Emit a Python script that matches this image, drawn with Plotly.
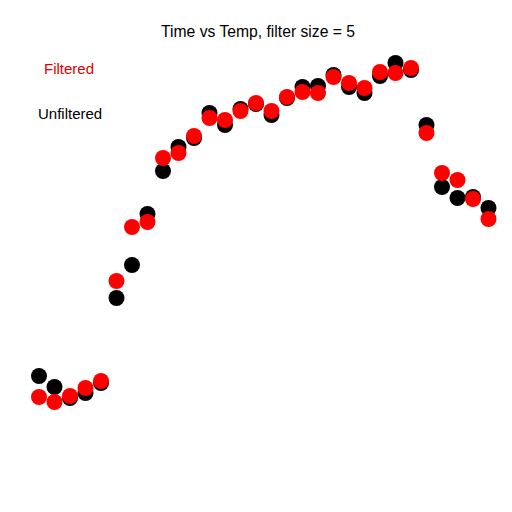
import plotly.graph_objects as go

time = list(range(1, 31))
unfiltered = [13.6, 12.5, 11.4, 11.9, 12.9, 21.4, 24.7, 29.8, 34.1, 36.5,
              37.4, 39.9, 38.7, 40.3, 40.8, 39.7, 41.4, 42.5, 42.6, 43.7,
              42.5, 41.9, 43.6, 44.9, 44.2, 38.7, 32.5, 31.4, 31.5, 30.4]
filtered = [11.5, 11.0, 11.6, 12.4, 13.1, 23.1, 28.5, 29.0, 35.4, 35.9,
            37.6, 39.4, 39.2, 40.1, 40.9, 40.1, 41.5, 42.0, 41.9, 43.5,
            42.9, 42.4, 44.0, 43.9, 44.4, 37.9, 33.9, 33.2, 31.3, 29.3]
title_text = "Time vs Temp, filter size = 5"

fig = go.Figure()
fig.add_trace(go.Scatter(x=time, y=unfiltered, mode="markers", name="Unfiltered",
                         marker=dict(color="black", size=16, line=dict(width=0))))
fig.add_trace(go.Scatter(x=time, y=filtered, mode="markers", name="Filtered",
                         marker=dict(color="#ff0000", size=16, line=dict(width=0))))

font = "Liberation Sans, Arial, sans-serif"
fig.update_layout(
    width=512, height=512,
    margin=dict(l=0, r=0, t=0, b=0),
    paper_bgcolor="white", plot_bgcolor="white",
    showlegend=False,
    xaxis=dict(range=[-1.516, 31.516], visible=False),
    yaxis=dict(range=[0, 51.2], visible=False),
    annotations=[
        dict(text=title_text, x=258/512, y=1-31/512, xref="paper", yref="paper",
             showarrow=False, xanchor="center", yanchor="middle",
             font=dict(family=font, size=15.7, color="black")),
        dict(text="Filtered", x=69/512, y=1-68/512, xref="paper", yref="paper",
             showarrow=False, xanchor="center", yanchor="middle",
             font=dict(family=font, size=15, color="#dd0000")),
        dict(text="Unfiltered", x=70/512, y=1-113/512, xref="paper", yref="paper",
             showarrow=False, xanchor="center", yanchor="middle",
             font=dict(family=font, size=15, color="black")),
    ],
)
fig.write_html("out.html")
